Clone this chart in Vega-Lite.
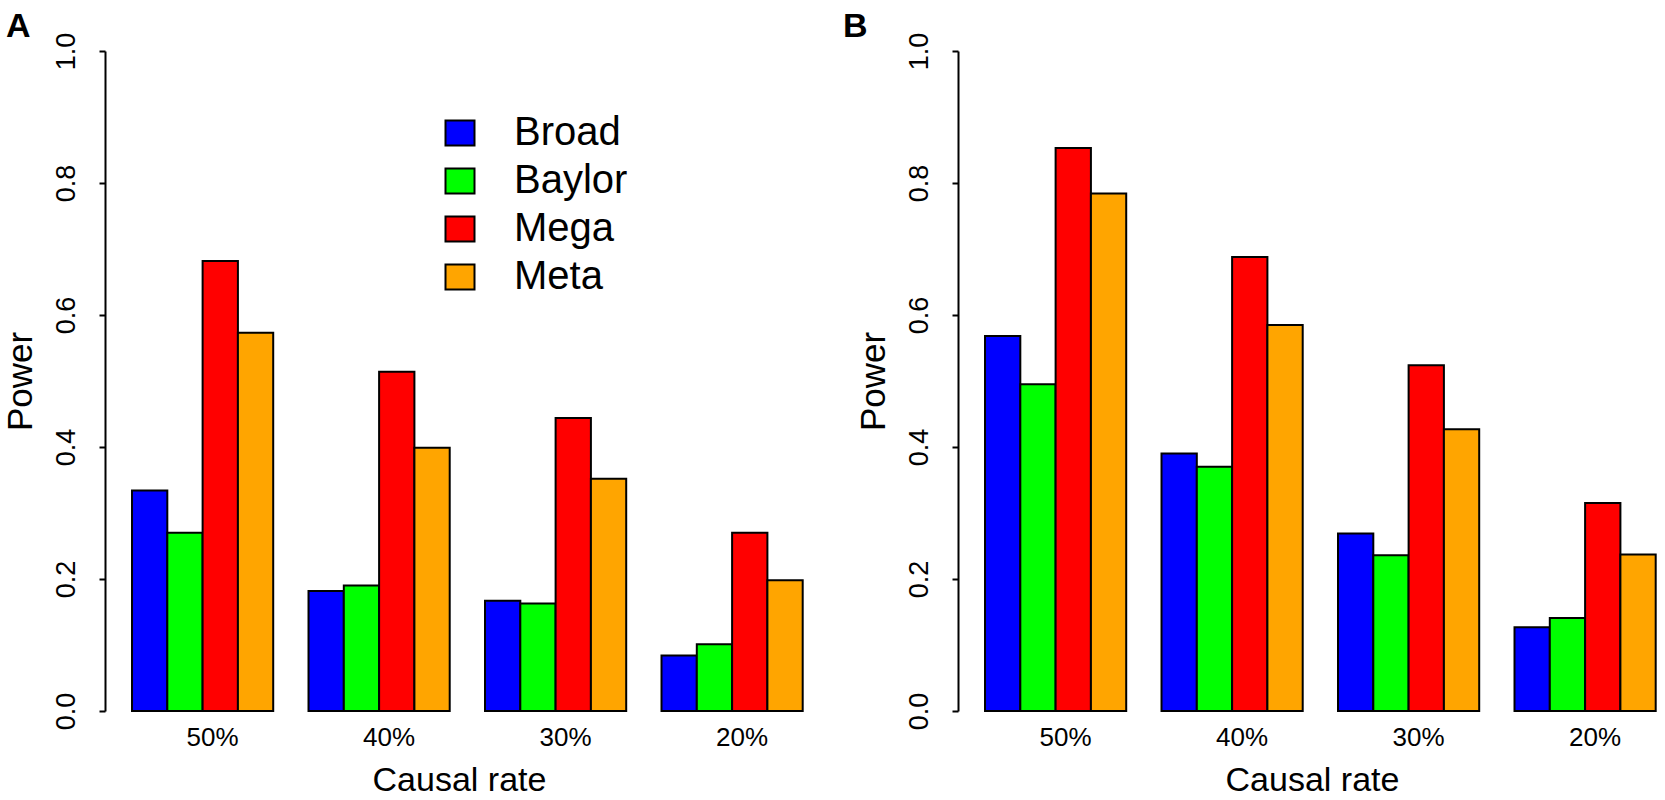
{
  "$schema": "https://vega.github.io/schema/vega-lite/v6.json",
  "background": "white",
  "padding": {"left": 3, "top": 10, "right": 0, "bottom": 0},
  "config": {
    "font": "Liberation Sans",
    "view": {"stroke": null},
    "axis": {"grid": false, "labelColor": "black", "titleColor": "black", "domainColor": "black", "tickColor": "black", "labelFont": "Liberation Sans", "titleFont": "Liberation Sans", "titleFontWeight": "normal"},
    "title": {"font": "Liberation Sans", "color": "black"},
    "legend": {"labelFont": "Liberation Sans"}
  },
  "datasets": {
    "power": [
      {"panel": "A", "rate": "50%", "method": "Broad", "power": 0.334},
      {"panel": "A", "rate": "50%", "method": "Baylor", "power": 0.270},
      {"panel": "A", "rate": "50%", "method": "Mega", "power": 0.682},
      {"panel": "A", "rate": "50%", "method": "Meta", "power": 0.573},
      {"panel": "A", "rate": "40%", "method": "Broad", "power": 0.182},
      {"panel": "A", "rate": "40%", "method": "Baylor", "power": 0.190},
      {"panel": "A", "rate": "40%", "method": "Mega", "power": 0.514},
      {"panel": "A", "rate": "40%", "method": "Meta", "power": 0.399},
      {"panel": "A", "rate": "30%", "method": "Broad", "power": 0.167},
      {"panel": "A", "rate": "30%", "method": "Baylor", "power": 0.163},
      {"panel": "A", "rate": "30%", "method": "Mega", "power": 0.444},
      {"panel": "A", "rate": "30%", "method": "Meta", "power": 0.352},
      {"panel": "A", "rate": "20%", "method": "Broad", "power": 0.084},
      {"panel": "A", "rate": "20%", "method": "Baylor", "power": 0.101},
      {"panel": "A", "rate": "20%", "method": "Mega", "power": 0.270},
      {"panel": "A", "rate": "20%", "method": "Meta", "power": 0.198},
      {"panel": "B", "rate": "50%", "method": "Broad", "power": 0.568},
      {"panel": "B", "rate": "50%", "method": "Baylor", "power": 0.495},
      {"panel": "B", "rate": "50%", "method": "Mega", "power": 0.853},
      {"panel": "B", "rate": "50%", "method": "Meta", "power": 0.784},
      {"panel": "B", "rate": "40%", "method": "Broad", "power": 0.390},
      {"panel": "B", "rate": "40%", "method": "Baylor", "power": 0.370},
      {"panel": "B", "rate": "40%", "method": "Mega", "power": 0.688},
      {"panel": "B", "rate": "40%", "method": "Meta", "power": 0.585},
      {"panel": "B", "rate": "30%", "method": "Broad", "power": 0.269},
      {"panel": "B", "rate": "30%", "method": "Baylor", "power": 0.236},
      {"panel": "B", "rate": "30%", "method": "Mega", "power": 0.524},
      {"panel": "B", "rate": "30%", "method": "Meta", "power": 0.427},
      {"panel": "B", "rate": "20%", "method": "Broad", "power": 0.127},
      {"panel": "B", "rate": "20%", "method": "Baylor", "power": 0.141},
      {"panel": "B", "rate": "20%", "method": "Mega", "power": 0.315},
      {"panel": "B", "rate": "20%", "method": "Meta", "power": 0.237}
    ]
  },
  "spacing": 30,
  "resolve": {"legend": {"fill": "independent"}},
  "hconcat": [
    {
      "title": {"text": "A", "anchor": "start", "frame": "bounds", "fontSize": 34, "fontWeight": "bold", "offset": -12, "dx": 3},
      "width": 708,
      "height": 660,
      "data": {"name": "power"},
      "transform": [{"filter": "datum.panel === 'A'"}],
      "mark": {"type": "bar", "stroke": "black", "strokeWidth": 2},
      "encoding": {
        "x": {
          "field": "rate", "type": "nominal", "sort": ["50%", "40%", "30%", "20%"],
          "scale": {"paddingInner": 0.2, "paddingOuter": 0.1057, "align": 0.724},
          "axis": {"title": "Causal rate", "labelAngle": 0, "domain": false, "ticks": false, "labelFontSize": 26, "labelPadding": 13, "labelOffset": 10, "titleFontSize": 34, "titlePadding": 13}
        },
        "xOffset": {"field": "method", "type": "nominal", "sort": ["Broad", "Baylor", "Mega", "Meta"], "scale": {"paddingInner": 0, "paddingOuter": 0}},
        "y": {
          "field": "power", "type": "quantitative",
          "scale": {"domain": [0, 1], "nice": false, "zero": true},
          "axis": {"title": "Power", "values": [0, 0.2, 0.4, 0.6, 0.8, 1.0], "format": ".1f", "labelAngle": 270, "labelAlign": "center", "labelBaseline": "alphabetic", "labelFontSize": 27, "labelPadding": 25, "tickSize": 6, "tickWidth": 2, "domainWidth": 2, "titleFontSize": 35, "titlePadding": 14}
        },
        "fill": {
          "field": "method", "type": "nominal", "sort": ["Broad", "Baylor", "Mega", "Meta"],
          "scale": {"domain": ["Broad", "Baylor", "Mega", "Meta"], "range": ["#0000FF", "#00FF00", "#FF0000", "#FFA500"]},
          "legend": {"title": null, "orient": "none", "legendX": 335, "legendY": 62, "symbolType": "M-1,-0.86H1V0.86H-1Z", "symbolSize": 841, "symbolStrokeColor": "black", "symbolStrokeWidth": 2, "symbolOpacity": 1, "labelFontSize": 40, "labelOffset": 34, "rowPadding": 8, "labelColor": "black"}
        }
      }
    },
    {
      "title": {"text": "B", "anchor": "start", "frame": "bounds", "fontSize": 34, "fontWeight": "bold", "offset": -12, "dx": -13},
      "width": 708,
      "height": 660,
      "data": {"name": "power"},
      "transform": [{"filter": "datum.panel === 'B'"}],
      "mark": {"type": "bar", "stroke": "black", "strokeWidth": 2},
      "encoding": {
        "x": {
          "field": "rate", "type": "nominal", "sort": ["50%", "40%", "30%", "20%"],
          "scale": {"paddingInner": 0.2, "paddingOuter": 0.1057, "align": 0.724},
          "axis": {"title": "Causal rate", "labelAngle": 0, "domain": false, "ticks": false, "labelFontSize": 26, "labelPadding": 13, "labelOffset": 10, "titleFontSize": 34, "titlePadding": 13}
        },
        "xOffset": {"field": "method", "type": "nominal", "sort": ["Broad", "Baylor", "Mega", "Meta"], "scale": {"paddingInner": 0, "paddingOuter": 0}},
        "y": {
          "field": "power", "type": "quantitative",
          "scale": {"domain": [0, 1], "nice": false, "zero": true},
          "axis": {"title": "Power", "values": [0, 0.2, 0.4, 0.6, 0.8, 1.0], "format": ".1f", "labelAngle": 270, "labelAlign": "center", "labelBaseline": "alphabetic", "labelFontSize": 27, "labelPadding": 25, "tickSize": 6, "tickWidth": 2, "domainWidth": 2, "titleFontSize": 35, "titlePadding": 14}
        },
        "fill": {
          "field": "method", "type": "nominal",
          "scale": {"domain": ["Broad", "Baylor", "Mega", "Meta"], "range": ["#0000FF", "#00FF00", "#FF0000", "#FFA500"]},
          "legend": null
        }
      }
    }
  ]
}
